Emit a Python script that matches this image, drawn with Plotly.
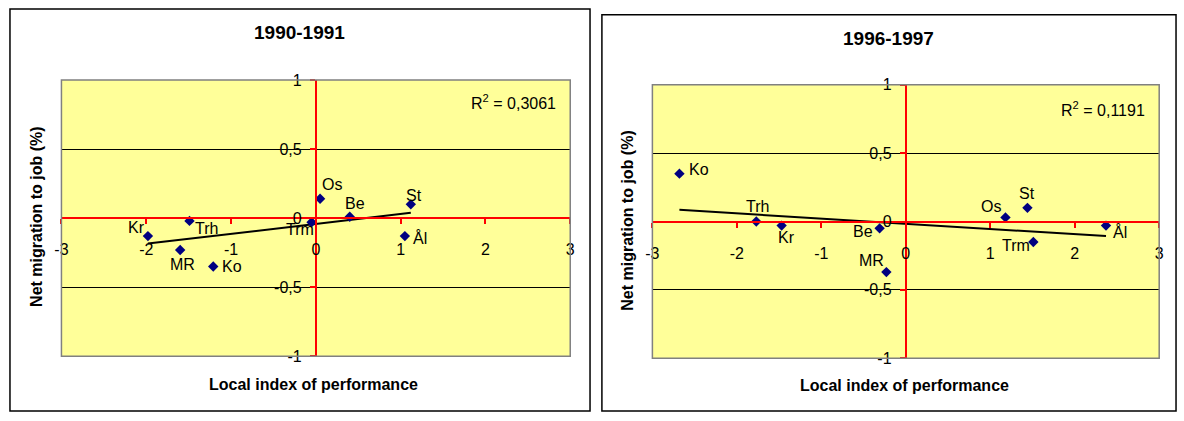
import numpy as np
import plotly.graph_objects as go

W, H = 1184, 421
FONT = "Arial, Liberation Sans, sans-serif"

# data
labels_1990 = ["Kr", "Trh", "MR", "Ko", "Trm", "Os", "Be", "St", "Ål"]
x_1990 = [-1.98, -1.49, -1.60, -1.21, -0.05, 0.05, 0.40, 1.12, 1.05]
y_1990 = [-0.13, -0.02, -0.23, -0.35, -0.03, 0.14, 0.01, 0.10, -0.13]
r2_1990 = "0,3061"

labels_1996 = ["Ko", "Trh", "Kr", "Be", "MR", "Os", "St", "Trm", "Ål"]
x_1996 = [-2.68, -1.77, -1.47, -0.31, -0.23, 1.18, 1.44, 1.51, 2.37]
y_1996 = [0.35, 0.00, -0.03, -0.05, -0.37, 0.03, 0.10, -0.15, -0.03]
r2_1996 = "0,1191"

x_ticks = [-3, -2, -1, 0, 1, 2, 3]
x_tick_text = ["-3", "-2", "-1", "0", "1", "2", "3"]
y_ticks = [-1, -0.5, 0, 0.5, 1]
y_tick_text = ["-1", "-0,5", "0", "0,5", "1"]

x_title = "Local index of performance"
y_title = "Net migration to job (%)"


def px(x, y):
    return x / W, 1 - y / H


# panel geometry in page pixels
panels = [
    dict(title="1990-1991", labels=labels_1990, x=x_1990, y=y_1990, r2=r2_1990,
         plot=(55, 75, 569, 363), box=(3, 1, 589, 420),
         title_xy=(295, 26), xt_xy=(310, 392), yt_xy=(29, 218), r2_xy=(557, 98),
         offsets={"Kr": (-11, -9), "Trh": (17, 8), "MR": (2, 15), "Ko": (19, 0),
                  "Trm": (-12, 7), "Os": (12, -14), "Be": (5, -13), "St": (3, -9),
                  "Ål": (15, 2)}),
    dict(title="1996-1997", labels=labels_1996, x=x_1996, y=y_1996, r2=r2_1996,
         plot=(652, 80, 1164, 365), box=(601, 7, 1181, 420),
         title_xy=(891, 32), xt_xy=(907, 393), yt_xy=(626, 222), r2_xy=(1152, 105),
         offsets={"Ko": (20, -4), "Trh": (1, -15), "Kr": (5, 12), "Be": (-17, 3),
                  "MR": (-15, -12), "Os": (-14, -11), "St": (0, -14), "Trm": (-17, 3),
                  "Ål": (14, 6)}),
]

fig = go.Figure()
annotations = []
shapes = []
layout_axes = {}


def paper_text(xy, text, size, **kw):
    x, y = px(*xy)
    d = dict(x=x, y=y, xref="paper", yref="paper", text=text, showarrow=False,
             xanchor="center", yanchor="middle",
             font=dict(family=FONT, size=size, color="black"))
    d.update(kw)
    return d


for i, p in enumerate(panels):
    sfx = "" if i == 0 else str(i + 1)
    xa, ya = "x" + sfx, "y" + sfx
    x0, y1 = px(p["plot"][0], p["plot"][1])
    x1, y0 = px(p["plot"][2], p["plot"][3])

    # axes cross at zero, like the spreadsheet chart
    xpos = y0 + (0 - (-1)) / 2 * (y1 - y0)
    ypos = x0 + (0 - (-3)) / 6 * (x1 - x0)

    layout_axes["xaxis" + sfx] = dict(
        domain=[x0, x1], range=[-3, 3], anchor="free", position=xpos,
        tickvals=x_ticks, ticktext=x_tick_text, showgrid=False, zeroline=False,
        showline=True, linecolor="#ff0000", linewidth=2,
        ticks="outside", ticklen=5, tickwidth=2, tickcolor="#ff0000",
        tickfont=dict(family=FONT, size=16, color="black"), ticklabelstandoff=12,
        fixedrange=True)
    layout_axes["yaxis" + sfx] = dict(
        domain=[y0, y1], range=[-1, 1], anchor="free", position=ypos,
        tickvals=y_ticks, ticktext=y_tick_text, showgrid=True,
        gridcolor="#000000", gridwidth=1, zeroline=False,
        showline=True, linecolor="#ff0000", linewidth=2,
        ticks="outside", ticklen=5, tickwidth=2, tickcolor="#ff0000",
        tickfont=dict(family=FONT, size=16, color="black"), ticklabelstandoff=5,
        fixedrange=True)

    # linear trend, drawn over the data span
    slope, icpt = np.polyfit(p["x"], p["y"], 1)
    tx = np.array([min(p["x"]), max(p["x"])])
    fig.add_trace(go.Scatter(x=tx, y=slope * tx + icpt, mode="lines",
                             line=dict(color="black", width=2),
                             xaxis=xa, yaxis=ya, hoverinfo="skip"))
    fig.add_trace(go.Scatter(x=p["x"], y=p["y"], mode="markers",
                             marker=dict(symbol="diamond", size=8, color="#000080"),
                             xaxis=xa, yaxis=ya, text=p["labels"]))

    for lab, xv, yv in zip(p["labels"], p["x"], p["y"]):
        dx, dy = p["offsets"][lab]
        annotations.append(dict(x=xv, y=yv, xref=xa, yref=ya, text=lab,
                                showarrow=False, xshift=dx, yshift=-dy,
                                xanchor="center", yanchor="middle",
                                font=dict(family=FONT, size=16, color="black")))

    annotations.append(paper_text(p["title_xy"], "<b>%s</b>" % p["title"], 19))
    annotations.append(paper_text(p["xt_xy"], "<b>%s</b>" % x_title, 16))
    annotations.append(paper_text(p["yt_xy"], "<b>%s</b>" % y_title, 16, textangle=-90))
    annotations.append(paper_text(p["r2_xy"], "R<sup>2</sup> = %s" % p["r2"], 16,
                                  xanchor="right"))

    # plot area frame and the outer chart box
    shapes.append(dict(type="rect", xref=xa + " domain", yref=ya + " domain",
                       x0=0, x1=1, y0=0, y1=1, layer="above",
                       line=dict(color="#808080", width=1.5)))
    bx0, by1 = px(p["box"][0], p["box"][1])
    bx1, by0 = px(p["box"][2], p["box"][3])
    shapes.append(dict(type="rect", xref="paper", yref="paper",
                       x0=bx0, x1=bx1, y0=by0, y1=by1,
                       line=dict(color="black", width=1.5)))

fig.update_layout(
    width=W, height=H,
    margin=dict(l=0, r=0, t=0, b=0),
    paper_bgcolor="white",
    plot_bgcolor="#ffff99",
    showlegend=False,
    hovermode=False,
    annotations=annotations,
    shapes=shapes,
    **layout_axes,
)

# the page's default body margin would push the figure off its spot
fig.write_html("out.html",
               config={"displayModeBar": False},
               post_script="document.body.style.margin='0';"
                           "document.body.style.overflow='hidden';")
